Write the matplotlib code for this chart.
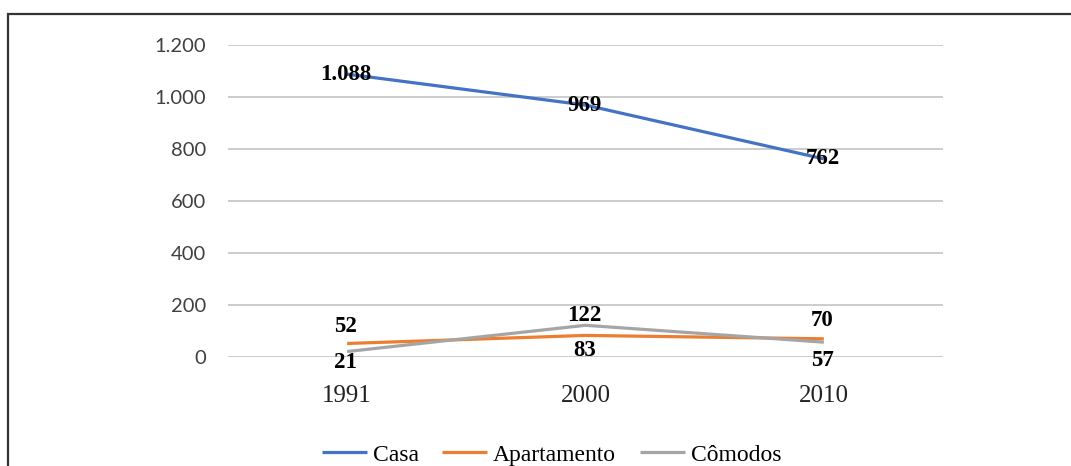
import matplotlib
matplotlib.use("Agg")
import matplotlib.pyplot as plt
from matplotlib.patches import Rectangle

# Domicílios por tipo, censos 1991/2000/2010
years = ["1991", "2000", "2010"]
casa = [1088, 969, 762]
apartamento = [52, 83, 70]
comodos = [21, 122, 57]
series_names = ["Casa", "Apartamento", "Cômodos"]
colors = ["#4472C4", "#ED7D31", "#A5A5A5"]


def fmt_br(v):
    return f"{v:,}".replace(",", ".")


fig = plt.figure(figsize=(10.71, 4.66), dpi=100)
ax = fig.add_axes([0.2129, 0.2339, 0.6676, 0.6695])

x = list(range(len(years)))
lines = []
for vals, name, c in zip([casa, apartamento, comodos], series_names, colors):
    ln, = ax.plot(x, vals, color=c, lw=2.3, label=name, solid_capstyle="butt", zorder=3)
    lines.append(ln)

# label offsets in points (0 = centred on the point)
offsets = [
    [0, 0, 0],
    [12, -11, 13],
    [-8, 7, -13],
]
for vals, offs in zip([casa, apartamento, comodos], offsets):
    for xi, v, dy in zip(x, vals, offs):
        ax.annotate(fmt_br(v), (xi, v), xytext=(-1, dy), textcoords="offset points",
                    ha="center", va="center", fontsize=16.5, fontweight="bold",
                    family="Liberation Serif", color="black", zorder=4)

ax.set_xlim(-0.5, 2.5)
ax.set_ylim(0, 1200)
ax.set_yticks(range(0, 1201, 200))
ax.set_yticklabels([fmt_br(v) for v in range(0, 1201, 200)],
                   family="Lato", fontsize=14.5, color="#404040")
ax.set_xticks(x)
ax.set_xticklabels(years, family="Liberation Serif", fontsize=18, color="#222222")
ax.tick_params(axis="y", length=0, pad=16)
ax.tick_params(axis="x", length=0, pad=20)
ax.grid(axis="y", color="#BFBFBF", lw=1.1)
ax.set_axisbelow(True)
for s in ax.spines.values():
    s.set_visible(False)

fig.legend(handles=lines, loc="center", bbox_to_anchor=(0.515, 0.024), ncol=3,
           frameon=False, prop={"family": "Liberation Serif", "size": 17},
           handlelength=1.9, handletextpad=0.25, columnspacing=1.0)

# outer frame, running off the right and bottom edges
fig.patches.append(Rectangle((8 / 1071, -0.1), 1.1, 1.1 - 14 / 466,
                             transform=fig.transFigure, fill=False,
                             edgecolor="#333333", lw=1.6))

fig.savefig("out.png", dpi=100, facecolor="white")
